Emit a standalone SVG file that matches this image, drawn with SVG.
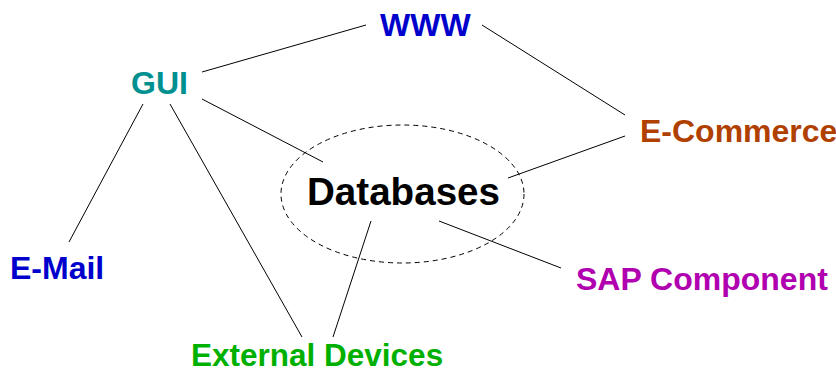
<svg xmlns="http://www.w3.org/2000/svg" width="836" height="373" viewBox="0 0 836 373">
<style>
text{font-family:"Liberation Sans",Arial,sans-serif;font-weight:bold;font-size:32px}
.ln{stroke:#000;stroke-width:1;fill:none}
</style>
<rect width="836" height="373" fill="#fff"/>
<g id="connectors" class="ln">
<line x1="202" y1="72" x2="366" y2="25"/>
<line x1="482" y1="25" x2="625" y2="115"/>
<line x1="202" y1="99" x2="323" y2="162"/>
<line x1="143" y1="104" x2="69" y2="242"/>
<line x1="170" y1="104" x2="302" y2="337"/>
<line x1="371" y1="221" x2="333" y2="337"/>
<line x1="508" y1="178" x2="625" y2="136"/>
<line x1="439" y1="221" x2="561" y2="268"/>
</g>
<g id="databases">
<ellipse cx="402.5" cy="194" rx="121.5" ry="69" class="ln" stroke-dasharray="5,4"/>
<text x="307" y="205" style="font-size:38.6px" fill="#000">Databases</text>
</g>
<g id="www"><text x="380" y="36" fill="#0000cc">WWW</text></g>
<g id="gui"><text x="131" y="94" fill="#009090">GUI</text></g>
<g id="email"><text x="10" y="279" fill="#0000cc">E-Mail</text></g>
<g id="external"><text x="191" y="366" style="font-size:31.5px" fill="#00b000">External Devices</text></g>
<g id="ecommerce"><text x="640" y="142" fill="#b04000">E-Commerce</text></g>
<g id="sap"><text x="576" y="290" fill="#b000b0">SAP Component</text></g>
</svg>
